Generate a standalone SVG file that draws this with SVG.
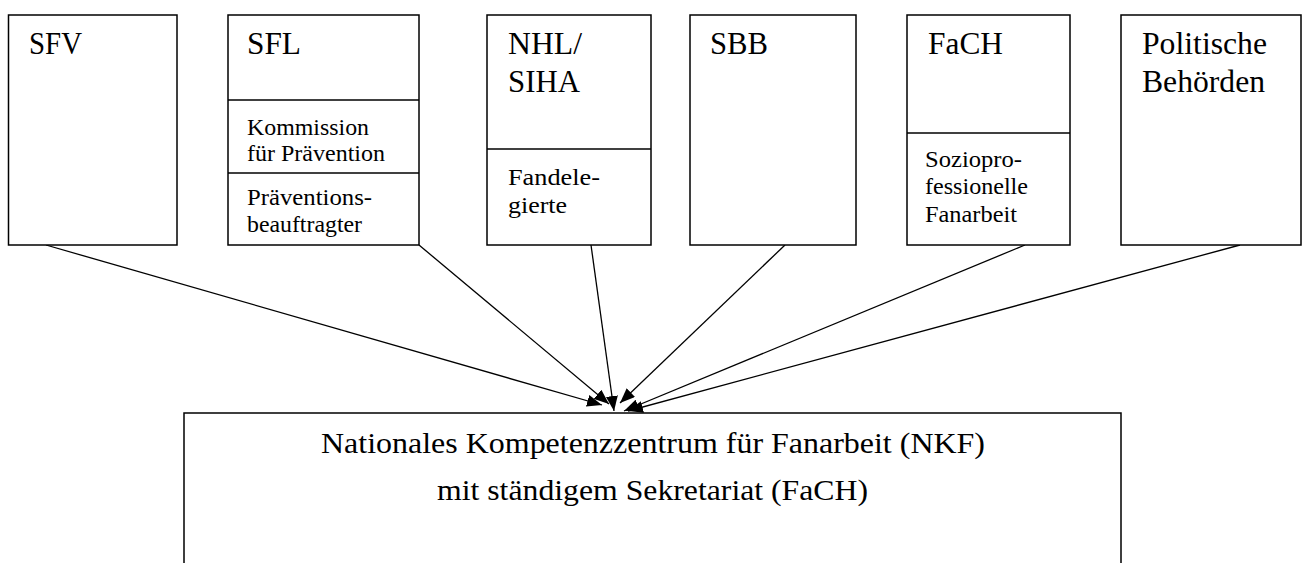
<svg xmlns="http://www.w3.org/2000/svg" width="1304" height="563" viewBox="0 0 1304 563">
<style>
.box{fill:#fff;stroke:#000;stroke-width:1.5}
.div{stroke:#000;stroke-width:1.5}
text{font-family:"Liberation Serif","Times New Roman",serif;fill:#000}
.big{font-size:31px}
.sm{font-size:24px}
.mid{font-size:30px}
.con{stroke:#000;stroke-width:1.3;fill:none;marker-end:url(#ah)}
</style>
<defs>
<marker id="ah" markerUnits="userSpaceOnUse" markerWidth="16" markerHeight="12" refX="15" refY="6" orient="auto">
<path d="M0,0 L15,6 L0,12 Z" fill="#000"/>
</marker>
</defs>
<rect width="1304" height="563" fill="#fff"/>
<g id="connectors">
<line class="con" x1="46" y1="245" x2="602" y2="405"/>
<line class="con" x1="419" y1="245" x2="609" y2="404"/>
<line class="con" x1="591" y1="245" x2="614" y2="411"/>
<line class="con" x1="785" y1="245" x2="620" y2="403"/>
<line class="con" x1="1025" y1="245" x2="624" y2="411"/>
<line class="con" x1="1240" y1="245" x2="628" y2="411"/>
</g>
<g id="sfv">
<rect class="box" x="8.5" y="15" width="168.5" height="230"/>
<text class="big" x="29" y="54" textLength="53" lengthAdjust="spacingAndGlyphs">SFV</text>
</g>
<g id="sfl">
<rect class="box" x="228" y="15" width="191" height="230"/>
<line class="div" x1="228" y1="100" x2="419" y2="100"/>
<line class="div" x1="228" y1="173" x2="419" y2="173"/>
<text class="big" x="247" y="54" textLength="54" lengthAdjust="spacingAndGlyphs">SFL</text>
<text class="sm" x="247" y="135" textLength="122" lengthAdjust="spacingAndGlyphs">Kommission</text>
<text class="sm" x="247" y="161" textLength="138" lengthAdjust="spacingAndGlyphs">für Prävention</text>
<text class="sm" x="247" y="205" textLength="125" lengthAdjust="spacingAndGlyphs">Präventions-</text>
<text class="sm" x="247" y="232" textLength="115" lengthAdjust="spacingAndGlyphs">beauftragter</text>
</g>
<g id="nhl">
<rect class="box" x="487" y="15" width="164" height="230"/>
<line class="div" x1="487" y1="149" x2="651" y2="149"/>
<text class="big" x="508" y="54" textLength="74" lengthAdjust="spacingAndGlyphs">NHL/</text>
<text class="big" x="508" y="92" textLength="72" lengthAdjust="spacingAndGlyphs">SIHA</text>
<text class="sm" x="508" y="185" textLength="92" lengthAdjust="spacingAndGlyphs">Fandele-</text>
<text class="sm" x="508" y="213" textLength="59" lengthAdjust="spacingAndGlyphs">gierte</text>
</g>
<g id="sbb">
<rect class="box" x="690" y="15" width="166" height="230"/>
<text class="big" x="710" y="54" textLength="58" lengthAdjust="spacingAndGlyphs">SBB</text>
</g>
<g id="fach">
<rect class="box" x="907" y="15" width="163" height="230"/>
<line class="div" x1="907" y1="133" x2="1070" y2="133"/>
<text class="big" x="928" y="54" textLength="75" lengthAdjust="spacingAndGlyphs">FaCH</text>
<text class="sm" x="925" y="167" textLength="97" lengthAdjust="spacingAndGlyphs">Soziopro-</text>
<text class="sm" x="925" y="194" textLength="103" lengthAdjust="spacingAndGlyphs">fessionelle</text>
<text class="sm" x="925" y="222" textLength="92" lengthAdjust="spacingAndGlyphs">Fanarbeit</text>
</g>
<g id="politische">
<rect class="box" x="1121" y="15" width="180" height="230"/>
<text class="big" x="1142" y="54" textLength="125" lengthAdjust="spacingAndGlyphs">Politische</text>
<text class="big" x="1142" y="92" textLength="123" lengthAdjust="spacingAndGlyphs">Behörden</text>
</g>
<g id="nkf">
<path class="box" d="M184,570 L184,413 L1121,413 L1121,570"/>
<text class="mid" x="321" y="453" textLength="664" lengthAdjust="spacingAndGlyphs">Nationales Kompetenzzentrum für Fanarbeit (NKF)</text>
<text class="mid" x="437" y="500" textLength="431" lengthAdjust="spacingAndGlyphs">mit ständigem Sekretariat (FaCH)</text>
</g>
</svg>
